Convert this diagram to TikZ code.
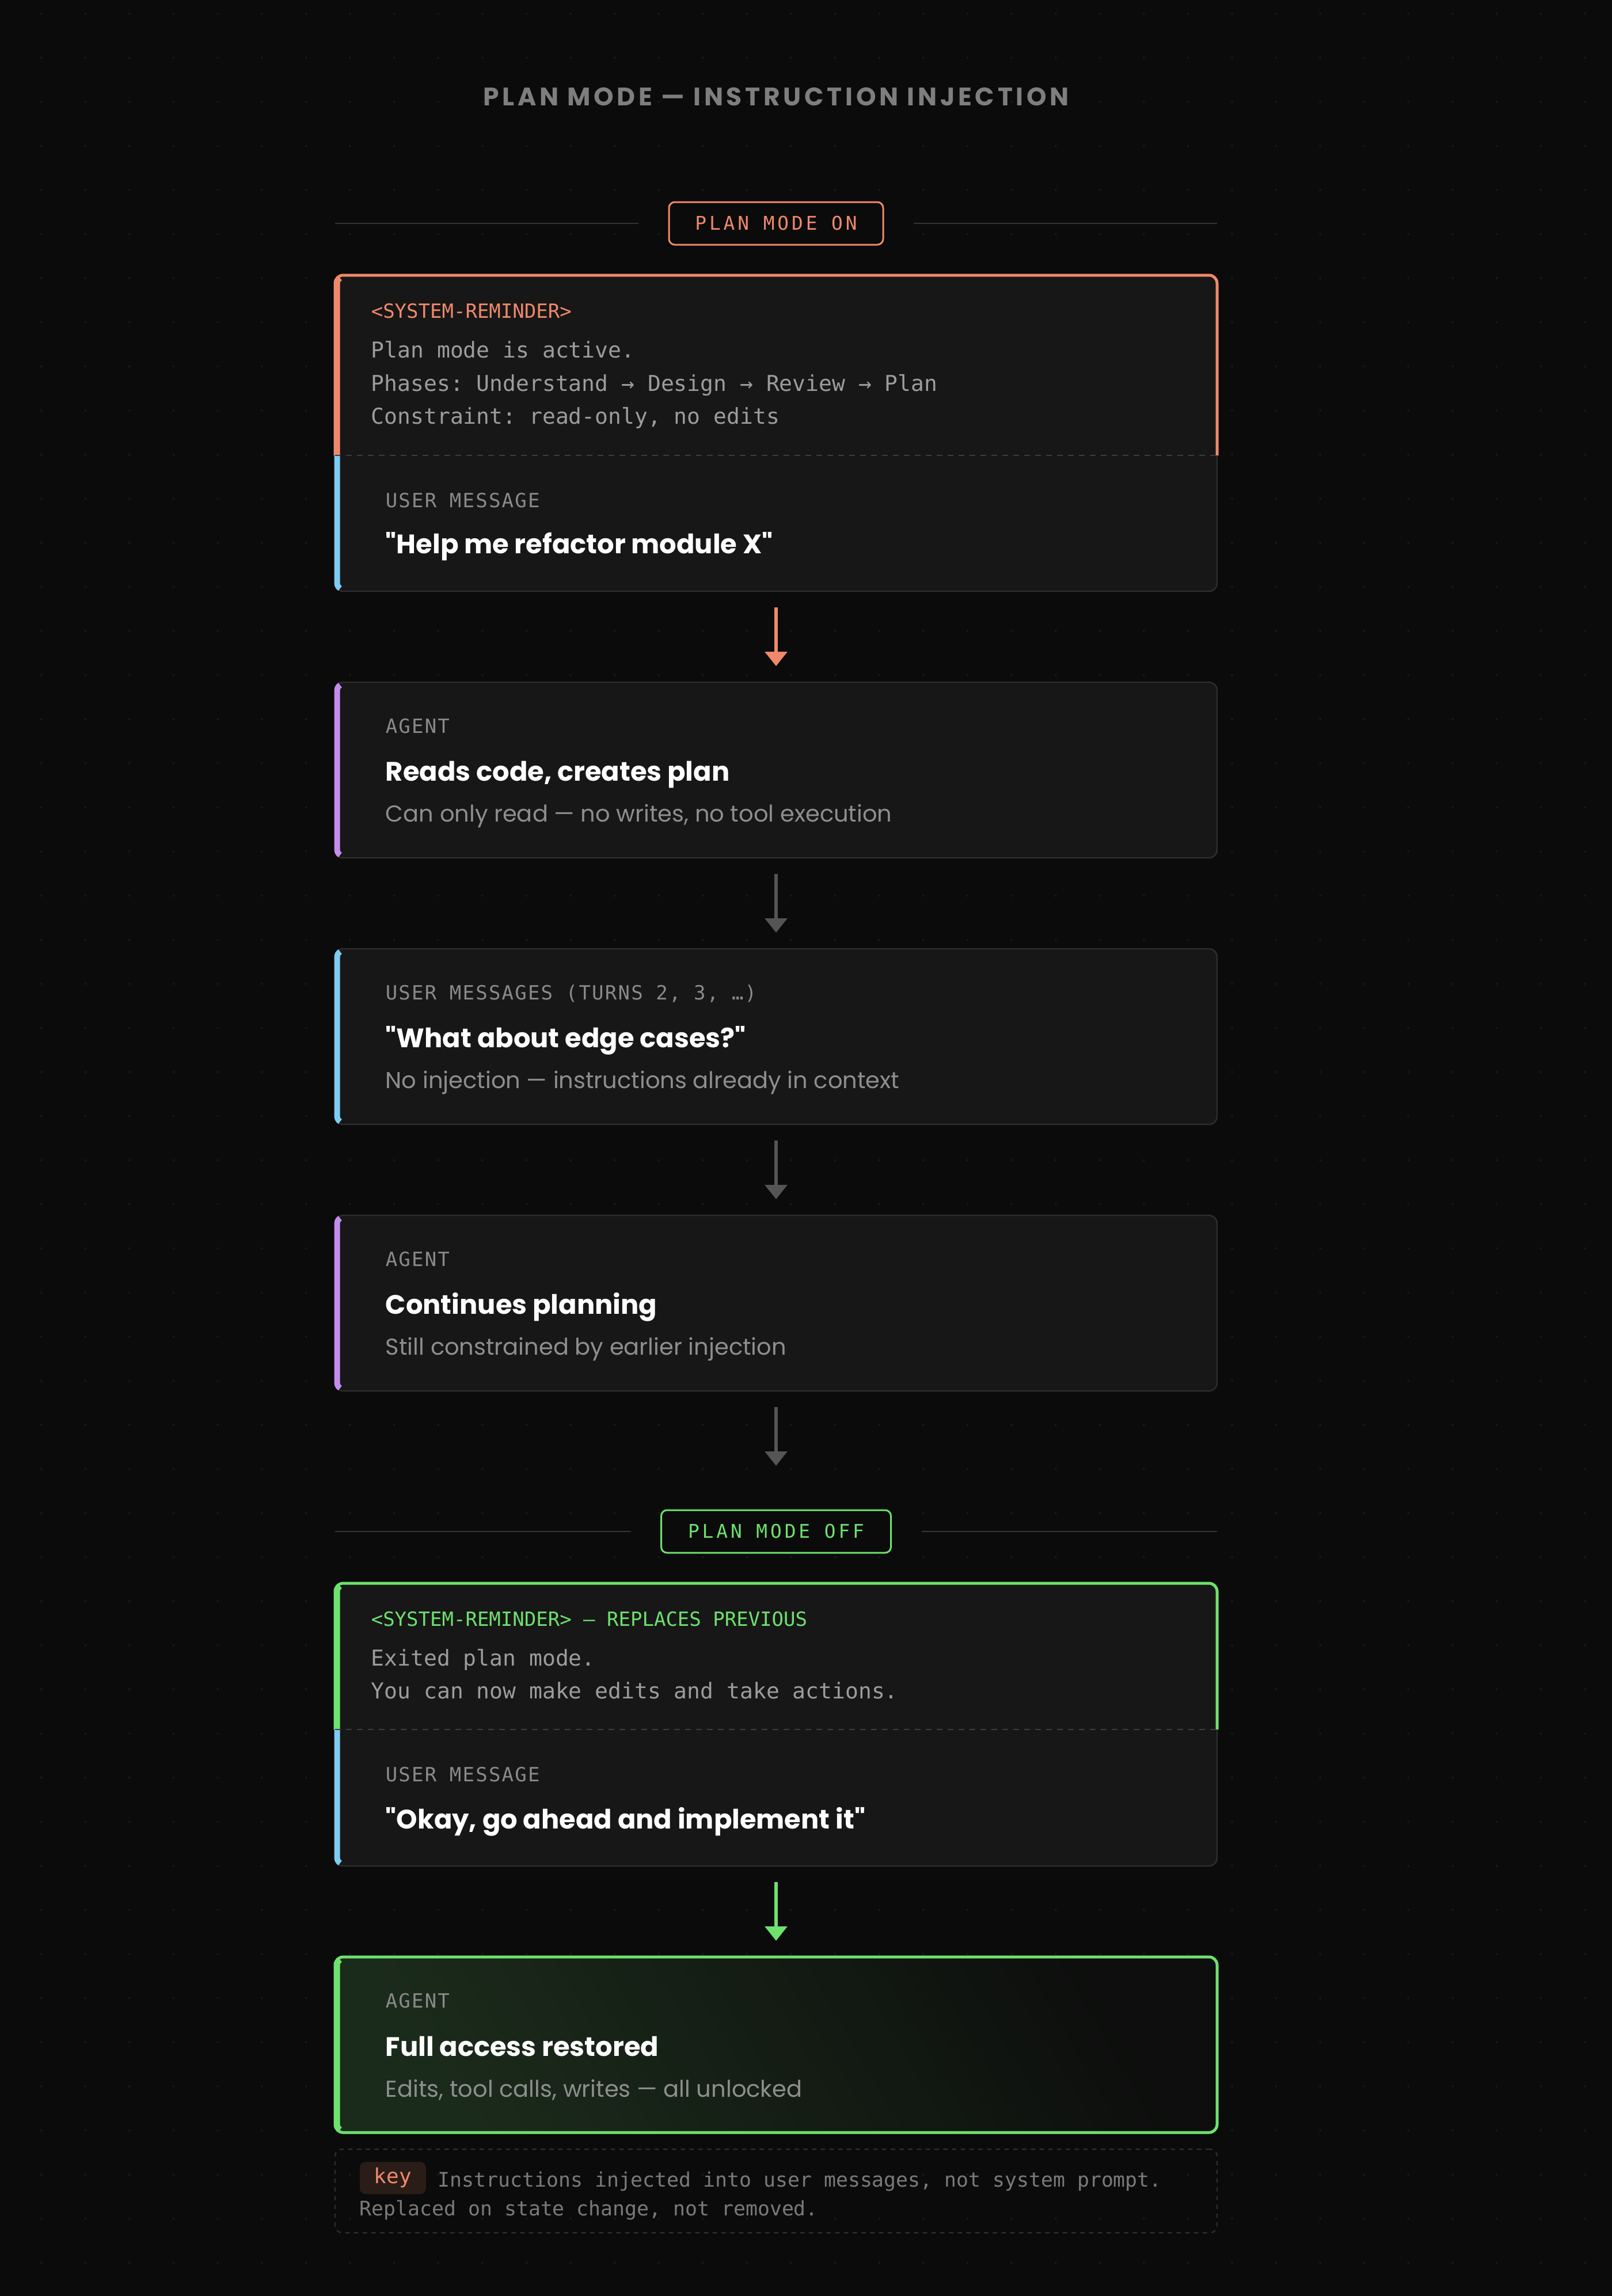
\documentclass[tikz,border=0pt]{standalone}
\usepackage{fontspec}
\setmainfont{Poppins}
\newfontfamily\codefont{DejaVu Sans Mono}
\newfontfamily\tagfont[LetterSpace=6.5]{DejaVu Sans Mono}
\newfontfamily\chipfont[LetterSpace=15]{DejaVu Sans Mono}
\newfontfamily\titlefont[LetterSpace=13]{Poppins}
\usepackage{tikz}
\usetikzlibrary{positioning, arrows.meta}

\definecolor{bg}{HTML}{0B0B0B}
\definecolor{dotgray}{HTML}{181818}
\definecolor{cardfill}{HTML}{171717}
\definecolor{cardline}{HTML}{2E2E2E}
\definecolor{rulegray}{HTML}{343434}
\definecolor{splitgray}{HTML}{3C3C3C}
\definecolor{titlegray}{HTML}{7E7E7E}
\definecolor{taggray}{HTML}{8A8A8A}
\definecolor{codegray}{HTML}{9C9C9C}
\definecolor{notegray}{HTML}{8E8E8E}
\definecolor{keygray}{HTML}{7A7A7A}
\definecolor{flowgray}{HTML}{555555}
\definecolor{warm}{HTML}{F0896B}
\definecolor{sky}{HTML}{7FCBF2}
\definecolor{lilac}{HTML}{C48DEB}
\definecolor{go}{HTML}{6EE16E}
\definecolor{fingreen}{HTML}{1B2B1B}
\definecolor{finend}{HTML}{0D0E0D}
\definecolor{chipfill}{HTML}{2A1C17}

\tikzset{
card/.style={draw=cardline, line width=0.6pt, fill=cardfill, rounded corners=3.5pt,
  minimum width=383pt, minimum height=76.25pt, inner sep=0pt, outer sep=0pt},
slot/.style={minimum width=383pt, inner sep=0pt, outer sep=0pt},
modechip/.style={line width=0.75pt, fill=bg, rounded corners=2.5pt, minimum height=18.5pt,
  inner sep=0pt, outer sep=0pt, font=\chipfont\fontsize{8.2}{10}\selectfont},
titletext/.style={inner sep=0pt, text=titlegray, font=\titlefont\bfseries\fontsize{11}{13}\selectfont},
tag/.style={inner sep=0pt, anchor=base west, text=taggray, font=\tagfont\fontsize{8.5}{10}\selectfont},
syslabel/.style={inner sep=0pt, anchor=base west, font=\codefont\fontsize{8.5}{10}\selectfont},
code/.style={inner sep=0pt, anchor=base west, text=codegray, font=\codefont\fontsize{9.5}{12}\selectfont},
head/.style={inner sep=0pt, anchor=base west, text=white, font=\bfseries\fontsize{11.6}{14}\selectfont},
note/.style={inner sep=0pt, anchor=base west, text=notegray, font=\fontsize{10}{12}\selectfont},
keytext/.style={inner sep=0pt, anchor=base west, text=keygray, font=\codefont\fontsize{8.7}{10}\selectfont},
rim/.style={draw=#1, line width=1.25pt},
accent/.style={draw=#1, line width=2.5pt},
flow/.style={-{Triangle[width=9.5pt,length=6.25pt]}, line width=1.5pt},
rule/.style={draw=rulegray, line width=0.6pt},
split/.style={draw=splitgray, line width=0.6pt, dash pattern=on 2.5pt off 2.25pt}
}

% straight quotes round the user's words
\newcommand{\said}[1]{\textquotedbl#1\textquotedbl}

% left colour bar of a card, rounded into the two left corners
\newcommand{\leftbar}[2]{%
  \draw[accent=#2] ([shift={(3.5pt,-3.5pt)}]#1.north west) ++(120:2.6pt)
    arc[start angle=120, end angle=180, radius=2.6pt]
    -- ([shift={(0.9pt,3.5pt)}]#1.south west)
    arc[start angle=180, end angle=240, radius=2.6pt];}

\begin{document}
\frenchspacing
\begin{tikzpicture}
\fill[bg] (0,0) rectangle (700pt,-997pt);
\useasboundingbox (0,0) rectangle (700pt,-997pt);
\foreach \i in {0,...,35}
  \foreach \j in {0,...,51}
    \fill[dotgray] ({17.95pt+\i*19.15pt},{-5.9pt-\j*19.15pt}) circle (0.5pt);

\node[titletext] (title) at (337pt,-42pt) {PLAN MODE — INSTRUCTION INJECTION};

% ---- plan mode on
\node[modechip, draw=warm, text=warm, minimum width=93pt] (onbadge) at (337pt,-97pt) {PLAN MODE ON};
\node[slot, minimum height=78.25pt, below=13.25pt of onbadge] (onsys) {};
\node[slot, minimum height=59pt, below=0pt of onsys] (onuser) {};
\fill[cardfill, rounded corners=3.5pt] (onsys.north west) rectangle (onuser.south east);
\draw[rule] (onbadge.west -| onsys.west) -- ([xshift=-13.25pt]onbadge.west);
\draw[rule] ([xshift=13.25pt]onbadge.east) -- (onbadge.east -| onsys.east);

\node[syslabel, text=warm] (onsys-tag) at ([shift={(15.5pt,-18.5pt)}]onsys.north west) {<SYSTEM-REMINDER>};
\node[code] (onsys-l1) at ([shift={(15.5pt,-35.75pt)}]onsys.north west) {Plan mode is active.};
\node[code] (onsys-l2) at ([shift={(15.5pt,-50.25pt)}]onsys.north west) {Phases: Understand → Design → Review → Plan};
\node[code] (onsys-l3) at ([shift={(15.5pt,-64.5pt)}]onsys.north west) {Constraint: read-only, no edits};
\node[tag] (onuser-tag) at ([shift={(21.75pt,-22.5pt)}]onuser.north west) {USER MESSAGE};
\node[head] (onuser-head) at ([shift={(21.75pt,-42.5pt)}]onuser.north west) {\said{Help me refactor module X}};

\draw[rim=warm, rounded corners=3.5pt] (onsys.south west) -- (onsys.north west) -- (onsys.north east) -- (onsys.south east);
\draw[draw=cardline, line width=0.6pt, rounded corners=3.5pt] (onuser.north east) -- (onuser.south east) -- (onuser.south west) -- (onuser.north west);
\draw[accent=warm] ([shift={(3.5pt,-3.5pt)}]onsys.north west) ++(120:2.6pt)
  arc[start angle=120, end angle=180, radius=2.6pt] -- ([xshift=0.9pt]onsys.south west);
\draw[accent=sky] ([xshift=0.9pt]onuser.north west) -- ([shift={(0.9pt,3.5pt)}]onuser.south west)
  arc[start angle=180, end angle=240, radius=2.6pt];
\draw[split] (onsys.south west) -- (onsys.south east);

% ---- planning turns
\node[card, below=39.5pt of onuser] (agentA) {};
\node[tag] (agentA-tag) at ([shift={(21.75pt,-22pt)}]agentA.north west) {AGENT};
\node[head] (agentA-head) at ([shift={(21.75pt,-42.75pt)}]agentA.north west) {Reads code, creates plan};
\node[note] (agentA-note) at ([shift={(21.75pt,-60.5pt)}]agentA.north west) {Can only read — no writes, no tool execution};
\leftbar{agentA}{lilac}

\node[card, below=39.5pt of agentA] (userB) {};
\node[tag] (userB-tag) at ([shift={(21.75pt,-22pt)}]userB.north west) {USER MESSAGES (TURNS 2, 3, …)};
\node[head] (userB-head) at ([shift={(21.75pt,-42.75pt)}]userB.north west) {\said{What about edge cases?}};
\node[note] (userB-note) at ([shift={(21.75pt,-60.5pt)}]userB.north west) {No injection — instructions already in context};
\leftbar{userB}{sky}

\node[card, below=39.5pt of userB] (agentB) {};
\node[tag] (agentB-tag) at ([shift={(21.75pt,-22pt)}]agentB.north west) {AGENT};
\node[head] (agentB-head) at ([shift={(21.75pt,-42.75pt)}]agentB.north west) {Continues planning};
\node[note] (agentB-note) at ([shift={(21.75pt,-60.5pt)}]agentB.north west) {Still constrained by earlier injection};
\leftbar{agentB}{lilac}

% ---- plan mode off
\node[modechip, draw=go, text=go, minimum width=99.75pt, below=51.75pt of agentB] (offbadge) {PLAN MODE OFF};
\node[slot, minimum height=63.5pt, below=13.25pt of offbadge] (offsys) {};
\node[slot, minimum height=59.25pt, below=0pt of offsys] (offuser) {};
\fill[cardfill, rounded corners=3.5pt] (offsys.north west) rectangle (offuser.south east);
\draw[rule] (offbadge.west -| offsys.west) -- ([xshift=-13.25pt]offbadge.west);
\draw[rule] ([xshift=13.25pt]offbadge.east) -- (offbadge.east -| offsys.east);

\node[syslabel, text=go] (offsys-tag) at ([shift={(15.5pt,-18.5pt)}]offsys.north west) {<SYSTEM-REMINDER> — REPLACES PREVIOUS};
\node[code] (offsys-l1) at ([shift={(15.5pt,-35.75pt)}]offsys.north west) {Exited plan mode.};
\node[code] (offsys-l2) at ([shift={(15.5pt,-50pt)}]offsys.north west) {You can now make edits and take actions.};
\node[tag] (offuser-tag) at ([shift={(21.75pt,-22.5pt)}]offuser.north west) {USER MESSAGE};
\node[head] (offuser-head) at ([shift={(21.75pt,-43pt)}]offuser.north west) {\said{Okay, go ahead and implement it}};

\draw[rim=go, rounded corners=3.5pt] (offsys.south west) -- (offsys.north west) -- (offsys.north east) -- (offsys.south east);
\draw[draw=cardline, line width=0.6pt, rounded corners=3.5pt] (offuser.north east) -- (offuser.south east) -- (offuser.south west) -- (offuser.north west);
\draw[accent=go] ([shift={(3.5pt,-3.5pt)}]offsys.north west) ++(120:2.6pt)
  arc[start angle=120, end angle=180, radius=2.6pt] -- ([xshift=0.9pt]offsys.south west);
\draw[accent=sky] ([xshift=0.9pt]offuser.north west) -- ([shift={(0.9pt,3.5pt)}]offuser.south west)
  arc[start angle=180, end angle=240, radius=2.6pt];
\draw[split] (offsys.south west) -- (offsys.south east);

\node[card, draw=go, line width=1.25pt, left color=fingreen, right color=finend, shading angle=120,
  below=39.5pt of offuser] (agentC) {};
\node[tag] (agentC-tag) at ([shift={(21.75pt,-22pt)}]agentC.north west) {AGENT};
\node[head] (agentC-head) at ([shift={(21.75pt,-43pt)}]agentC.north west) {Full access restored};
\node[note] (agentC-note) at ([shift={(21.75pt,-60.75pt)}]agentC.north west) {Edits, tool calls, writes — all unlocked};
\leftbar{agentC}{go}

% ---- key note
\node[slot, draw=cardline, line width=0.6pt, dash pattern=on 1.9pt off 1.9pt, rounded corners=3pt,
  minimum height=36.25pt, below=7.25pt of agentC] (keybox) {};
\node[fill=chipfill, text=warm, rounded corners=2.5pt, minimum width=28.75pt, minimum height=14pt,
  inner sep=0pt, anchor=west, font=\codefont\fontsize{9}{10}\selectfont] (keychip)
  at ([shift={(10.5pt,-12.5pt)}]keybox.north west) {key};
\node[keytext] (key-l1) at ([shift={(44.5pt,-16.25pt)}]keybox.north west) {Instructions injected into user messages, not system prompt.};
\node[keytext] (key-l2) at ([shift={(10.5pt,-28.75pt)}]keybox.north west) {Replaced on state change, not removed.};

% ---- flow
\draw[flow, warm] ([yshift=-7pt]onuser.south) -- ([yshift=7pt]agentA.north);
\draw[flow, flowgray] ([yshift=-7pt]agentA.south) -- ([yshift=7pt]userB.north);
\draw[flow, flowgray] ([yshift=-7pt]userB.south) -- ([yshift=7pt]agentB.north);
\draw[flow, flowgray] ([yshift=-7pt]agentB.south) -- ([yshift=19.25pt]offbadge.north);
\draw[flow, go] ([yshift=-7pt]offuser.south) -- ([yshift=7pt]agentC.north);
\end{tikzpicture}
\end{document}
